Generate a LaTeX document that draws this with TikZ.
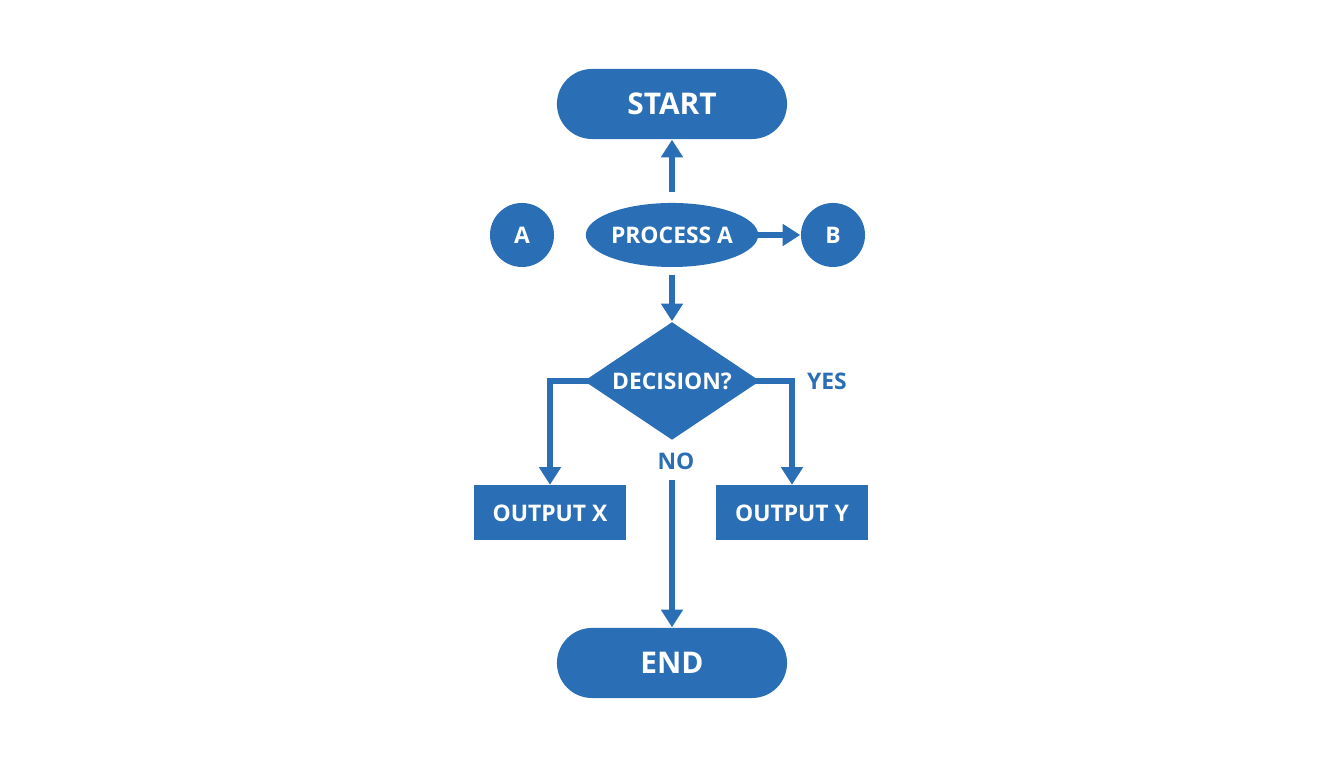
\documentclass[tikz,border=0pt]{standalone}
\usepackage{fontspec}
\setmainfont{Open Sans}
\usetikzlibrary{shapes.geometric,arrows.meta}
\definecolor{fb}{HTML}{2A6FB6}
\begin{document}
\begin{tikzpicture}[x=0.01cm,y=-0.01cm,
  lbl/.style={text=white,font=\bfseries},
  term/.style={fill=fb,rounded corners=0.35cm,minimum width=2.3cm,minimum height=0.7cm,lbl,font=\bfseries\fontsize{8.5}{10}\selectfont,inner sep=0},
  circ/.style={circle,fill=fb,minimum size=0.64cm,inner sep=0,lbl,font=\bfseries\fontsize{6.5}{8}\selectfont},
  box/.style={fill=fb,minimum width=1.52cm,minimum height=0.55cm,inner sep=0,lbl,font=\bfseries\fontsize{6.5}{8}\selectfont},
  arr/.style={draw=fb,line width=1.7pt,-{Triangle[width=6pt,length=5pt]}},
  ln/.style={draw=fb,line width=1.7pt}]
\useasboundingbox (0,0) rectangle (1344,768);
\node[term] (start) at (672,104) {START};
\node[term] (end) at (672,663) {END};
\node[circ] (a) at (522,235) {A};
\node[circ] (b) at (833,235) {B};
\node[ellipse,fill=fb,minimum width=1.56cm,minimum height=0.64cm,inner sep=0,lbl,font=\bfseries\fontsize{6.5}{8}\selectfont] (p) at (672,235) {PROCESS A};
\node[diamond,fill=fb,minimum width=1.76cm,minimum height=1.18cm,inner sep=0,aspect=1.5,lbl,font=\bfseries\fontsize{6.5}{8}\selectfont] (d) at (672,381) {DECISION?};
\node[box] (x) at (550,513) {OUTPUT X};
\node[box] (y) at (792,513) {OUTPUT Y};
\node[text=fb,font=\bfseries\fontsize{6.5}{8}\selectfont] (yes) at (827,381) {YES};
\node[text=fb,font=\bfseries\fontsize{6.5}{8}\selectfont] (no) at (676,461) {NO};
\coordinate (u1) at (672,192);
\coordinate (r1) at (758,235);
\coordinate (d1) at (672,275);
\coordinate (n1) at (672,480);
\draw[arr] (u1) -- (start);
\draw[arr] (r1) -- (b);
\draw[arr] (d1) -- (d);
\draw[arr] (n1) -- (end);
\draw[arr] (d.west) ++(6,0) -| (x);
\draw[arr] (d.east) ++(-6,0) -| (y);
\end{tikzpicture}
\end{document}
